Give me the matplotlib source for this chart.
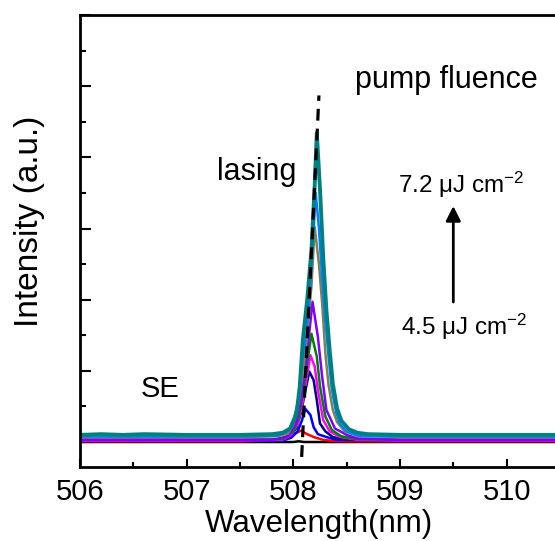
import matplotlib
matplotlib.use("Agg")
import matplotlib.pyplot as plt
from matplotlib.ticker import MultipleLocator, NullFormatter

plt.rcParams['font.family'] = ['Liberation Sans', 'DejaVu Sans']
plt.rcParams['mathtext.default'] = 'regular'

# ---- data ----
wl_black = [506.0, 507.0, 508.0, 508.05, 508.1, 509.0, 510.5]
I_black = [0.0, 0.0, 0.0, 0.01, 0.0, 0.0, 0.0]

wl_red = [506.0, 507.5, 507.9, 507.97, 508.02, 508.07, 508.13, 508.19, 508.28, 508.4, 509.0, 510.5]
I_red = [0.01, 0.01, 0.03, 0.07, 0.12, 0.16, 0.11, 0.07, 0.03, 0.01, 0.01, 0.01]

wl_blue = [506.0, 507.5, 507.9, 507.98, 508.04, 508.08, 508.11, 508.16, 508.19, 508.23, 508.31, 508.4, 509.0, 510.5]
I_blue = [0.02, 0.02, 0.02, 0.06, 0.15, 0.30, 0.47, 0.38, 0.21, 0.11, 0.07, 0.03, 0.02, 0.02]

wl_navy = [506.0, 507.5, 507.9, 507.97, 508.03, 508.07, 508.11, 508.15, 508.19, 508.22, 508.25, 508.30, 508.37, 508.5, 509.0, 510.5]
I_navy = [0.03, 0.03, 0.03, 0.08, 0.20, 0.40, 0.70, 0.99, 0.87, 0.59, 0.26, 0.15, 0.07, 0.03, 0.03, 0.03]

wl_magenta = [506.0, 507.5, 507.9, 507.98, 508.04, 508.08, 508.12, 508.16, 508.20, 508.23, 508.28, 508.34, 508.44, 508.6, 509.0, 510.5]
I_magenta = [0.02, 0.02, 0.03, 0.10, 0.25, 0.50, 0.85, 1.22, 1.06, 0.73, 0.31, 0.15, 0.07, 0.03, 0.02, 0.02]

wl_green = [506.0, 507.5, 507.9, 508.0, 508.05, 508.09, 508.13, 508.17, 508.22, 508.25, 508.30, 508.36, 508.45, 508.6, 509.0, 510.5]
I_green = [0.03, 0.03, 0.04, 0.15, 0.35, 0.70, 1.10, 1.52, 1.20, 0.78, 0.36, 0.17, 0.08, 0.04, 0.03, 0.03]

wl_purple = [506.0, 507.5, 507.8, 507.95, 508.02, 508.06, 508.10, 508.14, 508.18, 508.23, 508.27, 508.31, 508.39, 508.5, 508.6, 509.0, 510.5]
I_purple = [0.03, 0.03, 0.03, 0.08, 0.25, 0.50, 0.90, 1.40, 1.97, 1.48, 0.92, 0.45, 0.19, 0.10, 0.05, 0.03, 0.03]

wl_olive = [506.0, 507.5, 507.85, 507.95, 508.0, 508.05, 508.09, 508.13, 508.17, 508.20, 508.24, 508.27, 508.30, 508.33, 508.37, 508.41, 508.48, 508.6, 509.0, 510.5]
I_olive = [0.07, 0.07, 0.08, 0.12, 0.25, 0.55, 1.00, 1.50, 2.20, 3.02, 2.50, 1.95, 1.25, 0.80, 0.45, 0.28, 0.15, 0.09, 0.07, 0.07]

wl_lightblue = [506.0, 507.5, 507.85, 507.95, 508.0, 508.05, 508.08, 508.12, 508.15, 508.18, 508.21, 508.24, 508.27, 508.30, 508.33, 508.36, 508.40, 508.44, 508.5, 508.6, 508.7, 509.0, 510.5]
I_lightblue = [0.08, 0.08, 0.09, 0.15, 0.30, 0.60, 1.10, 1.50, 2.00, 2.70, 3.50, 3.00, 2.30, 1.70, 1.20, 0.75, 0.42, 0.25, 0.15, 0.09, 0.08, 0.08, 0.08]

wl_teal = [506.0, 506.2, 506.4, 506.6, 507.0, 507.5, 507.8, 507.9, 507.97, 508.03, 508.06, 508.09, 508.13, 508.17, 508.20, 508.22, 508.25, 508.28, 508.31, 508.34, 508.37, 508.41, 508.45, 508.52, 508.6, 508.7, 509.0, 510.5]
I_teal = [0.10, 0.11, 0.10, 0.11, 0.10, 0.10, 0.11, 0.13, 0.19, 0.40, 0.78, 1.45, 2.00, 2.70, 3.60, 4.34, 3.55, 2.60, 1.85, 1.30, 0.82, 0.47, 0.30, 0.18, 0.13, 0.11, 0.10, 0.10]

lasing_wl = [508.078, 508.24]
lasing_I = [-0.21, 4.87]

series = [
    (wl_black, I_black, '#000000', 1.8),
    (wl_red, I_red, '#FF0000', 1.8),
    (wl_blue, I_blue, '#0000FF', 1.8),
    (wl_navy, I_navy, '#000080', 1.8),
    (wl_magenta, I_magenta, '#FF00FF', 1.8),
    (wl_green, I_green, '#008000', 1.8),
    (wl_purple, I_purple, '#8000FF', 1.8),
    (wl_olive, I_olive, '#808050', 1.8),
    (wl_lightblue, I_lightblue, '#0080FF', 1.8),
    (wl_teal, I_teal, '#008080', 2.8),
]

# ---- figure ----
W, H = 555, 541
fig = plt.figure(figsize=(W / 100, H / 100), dpi=100)
ax = fig.add_axes([80 / W, (H - 466.7) / H, (W - 80) / W, (466.7 - 15) / H])

for x, y, c, lw in series:
    ax.plot(x, y, color=c, lw=lw, solid_joinstyle='round')

ax.plot(lasing_wl, lasing_I, color='black', lw=2.3, dashes=(3.7, 2.5))

ax.set_xlim(506, 506 + 475 / 106.67)
ax.set_ylim(-0.347, 6.0)

ax.xaxis.set_major_locator(MultipleLocator(1))
ax.xaxis.set_minor_locator(MultipleLocator(0.5))
ax.yaxis.set_major_locator(MultipleLocator(1))
ax.yaxis.set_minor_locator(MultipleLocator(0.5))
ax.yaxis.set_major_formatter(NullFormatter())

ax.tick_params(axis='x', which='major', direction='in', length=6, width=1.5,
               labelsize=21, pad=8, top=False)
ax.tick_params(axis='x', which='minor', direction='in', length=3.6, width=1.5, top=False)
ax.tick_params(axis='y', which='major', direction='in', length=7.7, width=1.5, right=False)
ax.tick_params(axis='y', which='minor', direction='in', length=4.3, width=1.5, right=False)

for side in ['left', 'bottom', 'top']:
    ax.spines[side].set_linewidth(2.0)
ax.spines['right'].set_visible(False)

def px(xp, yp):
    return (xp / W, 1 - yp / H)

# axis titles
fig.text(*px(319, 532), 'Wavelength(nm)', fontsize=22.5, ha='center', va='baseline')
fig.text(*px(30, 221), 'Intensity (a.u.)', fontsize=24, ha='center', va='center',
         rotation=90)

fig.text(*px(217, 180), 'lasing', fontsize=22, ha='left', va='baseline')
fig.text(*px(355, 88), 'pump fluence', fontsize=22, ha='left', va='baseline')
fig.text(*px(141, 397), 'SE', fontsize=21, ha='left', va='baseline')
fig.text(*px(398, 193), r'7.2 μJ cm$^{-2}$', fontsize=17.5, ha='left', va='baseline')
fig.text(*px(401, 335), r'4.5 μJ cm$^{-2}$', fontsize=17.5, ha='left', va='baseline')

ax.annotate('', xy=px(453.3, 206), xytext=px(453.3, 302),
            xycoords='figure fraction', textcoords='figure fraction',
            arrowprops=dict(arrowstyle='-|>', color='black', lw=2.0,
                            mutation_scale=22, shrinkA=0, shrinkB=0))

fig.savefig('out.png', dpi=100)
